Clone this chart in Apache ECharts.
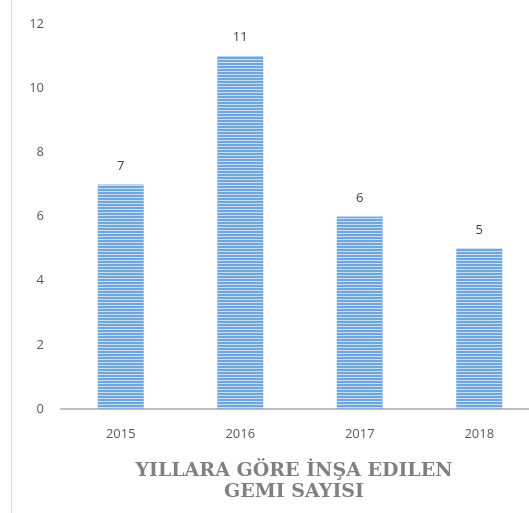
<!DOCTYPE html>
<html>
<head>
<meta charset="utf-8">
<script src="https://cdn.jsdelivr.net/npm/echarts@6/dist/echarts.min.js"></script>
<style>
  html, body { margin: 0; padding: 0; background: #fff; }
  #chart { width: 529px; height: 513px; }
</style>
</head>
<body>
<div id="chart"></div>
<script>
const years = ['2015', '2016', '2017', '2018']
const shipCounts = [7, 11, 6, 5]
const titleLines = ['YILLARA GÖRE İNŞA EDILEN', 'GEMI SAYISI']

// striped fill like the excel bars
const makeStripes = () => {
  const c = document.createElement('canvas')
  c.width = 4
  c.height = 3
  const ctx = c.getContext('2d')
  ctx.fillStyle = '#6fa6de'
  ctx.fillRect(0, 0, 4, 2)
  ctx.fillStyle = '#c9def3'
  ctx.fillRect(0, 2, 4, 1)
  return c
}

const chart = echarts.init(document.getElementById('chart'))

const option = {
  animation: false,
  grid: {
    left: 61,
    top: 24,
    bottom: 104,
    right: -10,
    outerBoundsMode: 'none',
    containLabel: false,
  },
  xAxis: {
    type: 'category',
    data: years,
    axisTick: { show: false },
    axisLine: { lineStyle: { color: '#bfbfbf', width: 2 } },
    axisLabel: {
      color: '#595959',
      fontSize: 13,
      fontFamily: 'Open Sans',
      margin: 19,
    },
  },
  yAxis: {
    type: 'value',
    min: 0,
    max: 12,
    interval: 2,
    splitLine: { show: false },
    axisLine: { show: false },
    axisTick: { show: false },
    axisLabel: {
      color: '#595959',
      fontSize: 13,
      fontFamily: 'Open Sans',
      margin: 17,
    },
  },
  series: [
    {
      type: 'bar',
      data: shipCounts,
      barWidth: '38.5%',
      itemStyle: {
        color: { image: makeStripes(), repeat: 'repeat' },
        borderColor: '#8dbbe8',
        borderWidth: 0.5,
      },
      label: {
        show: true,
        position: 'top',
        distance: 12,
        color: '#404040',
        fontSize: 13,
        fontFamily: 'Open Sans',
      },
    },
  ],
  graphic: [
    {
      type: 'line',
      shape: { x1: 11.5, y1: 0, x2: 11.5, y2: 513 },
      style: { stroke: '#d9d9d9', lineWidth: 1 },
    },
    {
      type: 'text',
      x: 294,
      y: 461,
      style: {
        text: titleLines.join('\n'),
        align: 'center',
        fill: '#808080',
        font: 'bold 19px "DejaVu Serif"',
        lineHeight: 21,
      },
    },
  ],
}

chart.setOption(option)
</script>
</body>
</html>
